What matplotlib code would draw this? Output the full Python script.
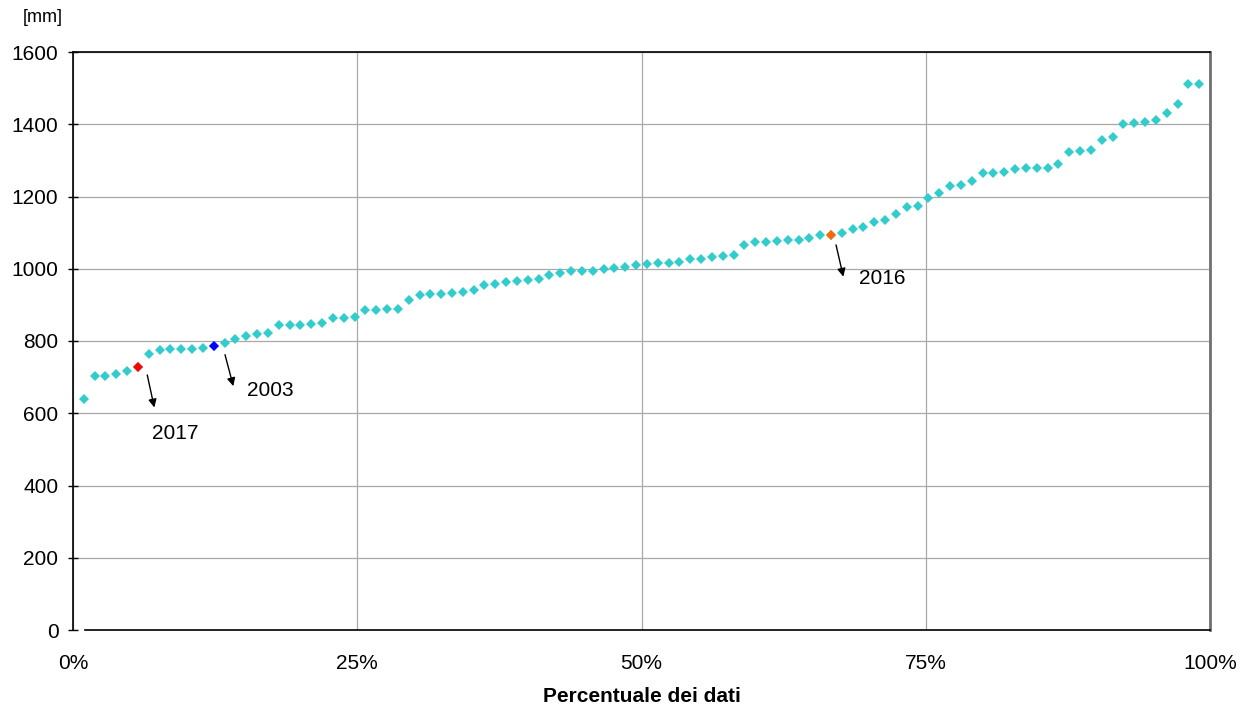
import matplotlib
matplotlib.use("Agg")
import matplotlib.pyplot as plt
from matplotlib.ticker import FixedLocator, FuncFormatter

plt.rcParams['font.family'] = ['Liberation Sans', 'DejaVu Sans']

# Sorted annual values [mm] (rank order)
values = [640, 703, 704, 710, 716, 728, 765, 775, 777, 777,
          778, 780, 785, 794, 805, 814, 818, 822, 843, 843,
          844, 848, 851, 864, 865, 867, 885, 886, 889, 889,
          913, 927, 931, 931, 934, 937, 940, 956, 958, 962,
          965, 968, 971, 982, 987, 994, 994, 995, 998, 1001,
          1006, 1010, 1013, 1015, 1017, 1020, 1026, 1028, 1033, 1035,
          1037, 1066, 1073, 1073, 1076, 1079, 1080, 1086, 1093, 1093,
          1099, 1111, 1115, 1130, 1134, 1151, 1172, 1174, 1195, 1211,
          1230, 1232, 1242, 1264, 1264, 1269, 1276, 1280, 1280, 1280,
          1289, 1324, 1326, 1329, 1357, 1364, 1401, 1403, 1405, 1413,
          1430, 1455, 1511, 1511]

# highlighted years: (label, rank index 1-based, colour)
hl_years = ["2017", "2003", "2016"]
hl_ranks = [6, 13, 70]
hl_colors = ["#FF0000", "#0000FF", "#FF6600"]

x_ticks = [0, 0.25, 0.5, 0.75, 1.0]
y_ticks = [0, 200, 400, 600, 800, 1000, 1200, 1400, 1600]
x_label = "Percentuale dei dati"
y_unit = "[mm]"

n = len(values)
xs = [i / (n + 1) for i in range(1, n + 1)]

W, H = 1240, 704
fig = plt.figure(figsize=(W / 100, H / 100), dpi=100)
L, R, B, T = 73, 1210, 630, 52
ax = fig.add_axes([L / W, (H - B) / H, (R - L) / W, (B - T) / H])

ax.set_xlim(0, 1)
ax.set_ylim(0, 1600)

ax.grid(True, color="#A8A8A8", lw=0.9)
ax.set_axisbelow(True)

base_color = "#33CCCC"
ax.plot(xs, values, linestyle="none", marker="D", ms=5.0, color=base_color,
        markeredgewidth=0, zorder=3)
for lab, r, c in zip(hl_years, hl_ranks, hl_colors):
    ax.plot(xs[r - 1], values[r - 1], linestyle="none", marker="D", ms=5.2,
            color=c, markeredgewidth=0, zorder=4)

# annotations (arrow tail/head and text position in data coords)
arrows = {
    "2017": ((0.0653, 706), (0.0715, 616), (0.0897, 545)),
    "2003": ((0.1337, 762), (0.1410, 675), (0.1737, 664)),
    "2016": ((0.6711, 1066), (0.6775, 978), (0.7120, 972)),
}
for lab in hl_years:
    tail, head, tpos = arrows[lab]
    ax.annotate("", xy=head, xytext=tail,
                arrowprops=dict(arrowstyle="-|>", color="black", lw=1.0,
                                mutation_scale=12, shrinkA=0, shrinkB=0))
    ax.text(tpos[0], tpos[1], lab, fontsize=15, ha="center", va="center")

ax.xaxis.set_major_locator(FixedLocator(x_ticks))
ax.xaxis.set_major_formatter(FuncFormatter(lambda v, p: f"{int(round(v * 100))}%"))
ax.yaxis.set_major_locator(FixedLocator(y_ticks))

ax.tick_params(axis="x", length=0, pad=17, labelsize=15)
ax.tick_params(axis="y", direction="inout", length=7, width=1, pad=7, labelsize=15)

for s in ["left", "bottom", "top"]:
    ax.spines[s].set_color("black")
    ax.spines[s].set_linewidth(1.2)
ax.spines["bottom"].set_bounds(0.0105, 1.0)
ax.spines["right"].set_color("#707070")
ax.spines["right"].set_linewidth(2)

fig.text((L + R) / 2 / W, 1 - 696 / H, x_label, fontsize=15, fontweight="bold",
         ha="center", va="center")
fig.text(43 / W, 1 - 18 / H, y_unit, fontsize=13, ha="center", va="center")

fig.savefig("out.png", dpi=100)
